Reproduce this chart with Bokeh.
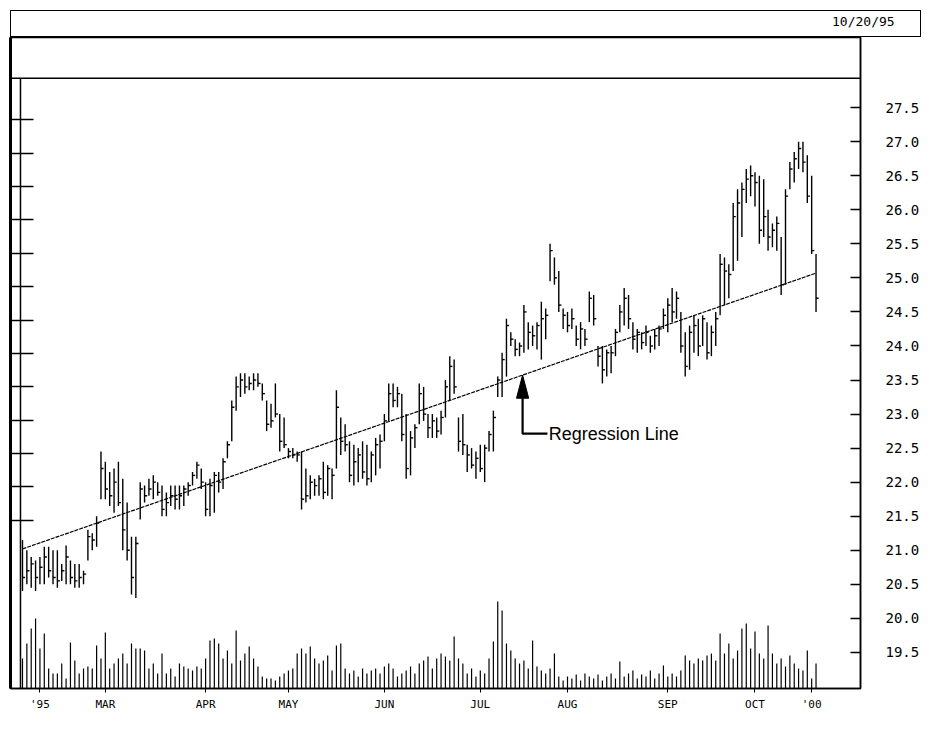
from bokeh.plotting import figure
from bokeh.models import Range1d, LinearAxis, FixedTicker, Span, Label, ColumnDataSource, NumeralTickFormatter, Div
from bokeh.layouts import column
from bokeh.embed import file_html
from bokeh.resources import INLINE

# ---------------- data (daily bars, 1 Feb 1995 .. 20 Oct 1995) ----------------
highs = [
    21.15, 21.00, 20.90, 20.85, 20.90, 21.05, 21.05, 21.00, 21.00, 20.80,
    21.07, 20.85, 20.80, 20.80, 20.70, 21.30, 21.25, 21.50, 22.45, 22.30,
    22.15, 22.20, 22.30, 22.05, 21.70, 21.20, 21.20, 22.00, 21.95, 22.05,
    22.10, 22.00, 21.95, 21.85, 21.95, 21.95, 21.95, 21.95, 22.00, 22.15,
    22.30, 22.20, 22.00, 22.05, 22.15, 22.15, 22.35, 22.60, 23.20, 23.55,
    23.60, 23.60, 23.55, 23.60, 23.60, 23.45, 23.20, 23.15, 23.45, 23.00,
    22.95, 22.50, 22.50, 22.45, 22.45, 22.20, 22.10, 22.05, 22.10, 22.30,
    22.25, 22.20, 23.35, 22.95, 22.85, 22.60, 22.55, 22.50, 22.60, 22.55,
    22.45, 22.65, 22.70, 23.00, 23.45, 23.45, 23.40, 23.30, 23.00, 22.75,
    22.85, 23.45, 23.40, 23.00, 23.00, 22.95, 23.05, 23.50, 23.85, 23.80,
    22.95, 23.00, 22.55, 22.50, 22.45, 22.55, 22.55, 22.75, 23.05, 23.55,
    23.90, 24.40, 24.20, 24.10, 24.05, 24.60, 24.35, 24.30, 24.35, 24.65,
    24.55, 25.50, 25.30, 25.10, 24.55, 24.50, 24.55, 24.30, 24.35, 24.25,
    24.80, 24.75, 24.00, 24.00, 23.95, 24.00, 24.25, 24.60, 24.85, 24.75,
    24.35, 24.25, 24.20, 24.30, 24.15, 24.25, 24.30, 24.55, 24.70, 24.85,
    24.80, 24.50, 24.20, 24.30, 24.45, 24.40, 24.45, 24.35, 24.30, 24.50,
    25.35, 25.30, 25.20, 26.10, 26.30, 26.40, 26.60, 26.65, 26.55, 26.50,
    26.45, 26.00, 25.80, 25.90, 25.60, 26.30, 26.70, 26.85, 27.00, 27.00,
    26.80, 26.50, 25.35,
]
lows = [
    20.40, 20.50, 20.45, 20.40, 20.50, 20.50, 20.60, 20.50, 20.45, 20.55,
    20.50, 20.50, 20.45, 20.45, 20.50, 20.85, 21.00, 21.05, 21.75, 21.75,
    21.65, 21.55, 21.65, 21.00, 20.85, 20.35, 20.30, 21.45, 21.70, 21.80,
    21.75, 21.80, 21.50, 21.50, 21.65, 21.60, 21.60, 21.65, 21.80, 21.95,
    22.05, 21.90, 21.50, 21.50, 21.55, 21.85, 21.90, 22.35, 22.60, 23.05,
    23.25, 23.30, 23.35, 23.35, 23.40, 23.20, 22.75, 22.80, 22.95, 22.45,
    22.50, 22.35, 22.35, 22.30, 21.60, 21.70, 21.75, 21.80, 21.80, 21.75,
    21.80, 21.75, 22.20, 22.40, 22.45, 22.00, 21.95, 22.00, 22.05, 21.95,
    22.00, 22.10, 22.20, 22.60, 22.90, 23.10, 23.10, 22.60, 22.05, 22.10,
    22.50, 22.85, 22.90, 22.65, 22.65, 22.65, 22.70, 22.95, 23.20, 23.30,
    22.45, 22.40, 22.15, 22.20, 22.05, 22.15, 22.00, 22.45, 22.45, 23.25,
    23.25, 23.55, 24.00, 23.85, 23.85, 23.90, 23.95, 24.00, 23.95, 23.80,
    24.10, 24.95, 24.90, 24.50, 24.25, 24.20, 24.25, 24.00, 23.95, 24.00,
    24.35, 24.30, 23.70, 23.45, 23.55, 23.60, 23.85, 24.20, 24.30, 24.25,
    23.95, 23.90, 23.95, 24.00, 23.90, 23.95, 24.00, 24.25, 24.20, 24.35,
    24.40, 23.90, 23.55, 23.65, 23.90, 23.85, 24.00, 23.80, 23.85, 24.00,
    24.45, 24.60, 24.70, 25.10, 25.25, 25.60, 26.10, 26.20, 26.05, 25.50,
    25.60, 25.40, 25.45, 25.40, 24.75, 24.90, 26.30, 26.40, 26.60, 26.55,
    26.10, 25.35, 24.50,
]
closes = [
    20.60, 20.70, 20.80, 20.60, 20.75, 20.90, 20.70, 20.60, 20.55, 20.70,
    20.90, 20.60, 20.55, 20.60, 20.65, 21.20, 21.15, 21.40, 22.20, 21.90,
    21.80, 22.00, 21.70, 21.30, 21.00, 20.60, 21.10, 21.90, 21.80, 21.90,
    22.00, 21.85, 21.60, 21.70, 21.80, 21.75, 21.80, 21.90, 21.95, 22.10,
    22.25, 22.00, 21.60, 21.95, 22.10, 22.00, 22.30, 22.55, 23.10, 23.40,
    23.50, 23.40, 23.45, 23.50, 23.45, 23.30, 22.85, 22.90, 23.00, 22.60,
    22.55, 22.45, 22.40, 22.40, 21.75, 21.80, 22.00, 21.95, 22.05, 21.85,
    22.20, 22.10, 23.10, 22.60, 22.55, 22.10, 22.30, 22.40, 22.15, 22.05,
    22.40, 22.55, 22.60, 22.90, 23.30, 23.20, 23.30, 22.70, 22.20, 22.65,
    22.80, 23.30, 23.00, 22.80, 22.90, 22.75, 22.95, 23.40, 23.70, 23.40,
    22.60, 22.55, 22.40, 22.25, 22.35, 22.20, 22.50, 22.70, 22.95, 23.50,
    23.80, 24.30, 24.10, 23.95, 24.00, 24.50, 24.20, 24.15, 24.30, 24.40,
    24.45, 25.40, 25.00, 24.60, 24.45, 24.30, 24.40, 24.10, 24.25, 24.10,
    24.70, 24.40, 23.85, 23.65, 23.90, 23.90, 24.20, 24.50, 24.70, 24.40,
    24.10, 24.20, 24.05, 24.20, 24.00, 24.15, 24.25, 24.45, 24.60, 24.50,
    24.70, 24.00, 23.70, 24.20, 24.30, 24.00, 24.40, 23.90, 24.20, 24.40,
    25.20, 25.10, 25.05, 25.90, 26.10, 26.30, 26.45, 26.50, 26.40, 25.70,
    25.90, 25.60, 25.70, 25.80, 24.90, 26.20, 26.60, 26.75, 26.90, 26.70,
    26.20, 25.40, 24.70,
]
volumes = [
    30, 45, 60, 70, 40, 55, 20, 15, 15, 25,
    10, 46, 28, 15, 20, 22, 20, 43, 30, 56,
    20, 25, 30, 35, 25, 45, 40, 40, 38, 20,
    25, 15, 35, 15, 20, 12, 25, 22, 20, 18,
    22, 20, 30, 48, 50, 45, 30, 38, 25, 58,
    28, 35, 42, 30, 22, 12, 10, 10, 8, 12,
    15, 18, 20, 35, 40, 35, 42, 30, 25, 28,
    33, 18, 43, 45, 20, 15, 18, 12, 20, 15,
    18, 20, 15, 22, 25, 20, 12, 15, 18, 22,
    15, 25, 28, 32, 20, 30, 35, 32, 28, 52,
    30, 25, 15, 20, 12, 18, 15, 30, 47, 87,
    78, 45, 38, 30, 25, 28, 20, 48, 22, 18,
    15, 20, 35, 12, 8, 12, 10, 14, 8, 15,
    12, 10, 14, 8, 12, 15, 10, 27, 12, 15,
    18, 10, 14, 12, 18, 10, 15, 23, 12, 15,
    12, 18, 33, 28, 25, 30, 28, 33, 35, 28,
    55, 35, 45, 30, 38, 60, 65, 40, 57, 35,
    30, 63, 35, 25, 30, 22, 33, 25, 20, 18,
    38, 10, 25,
]
month_ticks = [4, 19, 42, 61, 83, 105, 125, 148, 168, 181]
month_labels = ["'95", "MAR", "APR", "MAY", "JUN", "JUL", "AUG", "SEP", "OCT", "'00"]
price_ticks = [19.5, 20.0, 20.5, 21.0, 21.5, 22.0, 22.5, 23.0, 23.5, 24.0,
               24.5, 25.0, 25.5, 26.0, 26.5, 27.0, 27.5]
left_ticks = [27.32, 26.83, 26.34, 25.85, 25.36, 24.87, 24.38, 23.89, 23.40,
              22.91, 22.42, 21.93, 21.44]
regression = [21.02, 25.07]      # fitted value at first and last bar
date_text = "10/20/95"
note_text = "Regression Line"
note_at = 114.7                  # bar index where the arrow meets the line

n = len(highs)
assert n == len(lows) == len(closes) == len(volumes) == 183
idx = list(range(n))

src = ColumnDataSource(dict(
    x=idx, xr=[i + 0.6 for i in idx], high=highs, low=lows, close=closes,
    vol=volumes, zero=[0] * n,
))

MONO = "DejaVu Sans Mono"

# ---------------- header strip (boxed, date at right) ----------------
header = Div(
    text=('<div style="font-family:\'DejaVu Sans Mono\';font-size:13px;line-height:22px;'
          'padding-left:821px;color:black;white-space:nowrap;">' + date_text + '</div>'),
    width=911, height=27, margin=(10, 0, 0, 10),
    styles={"border": "1.5px solid black", "box-sizing": "border-box", "background": "white"},
)

# ---------------- main chart ----------------
y0, y1 = 18.97, 28.53
p = figure(width=923, height=685,
           x_range=Range1d(-2.75, 192.2), y_range=Range1d(y0, y1),
           output_backend="svg", toolbar_location=None,
           y_axis_location="right",
           min_border_left=10, min_border_right=63, min_border_top=0, min_border_bottom=34)
p.margin = (0, 0, 0, 0)
p.grid.visible = False
p.outline_line_color = "black"
p.outline_line_width = 1.5
p.extra_y_ranges = {"vol": Range1d(0, 651)}

# right price axis
ya = p.yaxis[0]
ya.ticker = FixedTicker(ticks=price_ticks)
ya.formatter = NumeralTickFormatter(format="0.0")
ya.major_tick_in = 10
ya.major_tick_out = 0
ya.minor_tick_line_color = None
ya.axis_line_width = 1.5
ya.major_tick_line_width = 1.5
ya.major_label_standoff = 25
ya.major_label_text_font = MONO
ya.major_label_text_font_size = "14px"
ya.major_label_text_color = "black"

# bottom month axis
xa = p.xaxis[0]
xa.ticker = FixedTicker(ticks=month_ticks)
xa.major_label_overrides = {t: l for t, l in zip(month_ticks, month_labels)}
xa.major_tick_in = 0
xa.major_tick_out = 4
xa.minor_tick_line_color = None
xa.axis_line_width = 1.5
xa.major_label_standoff = 5
xa.major_label_text_font = MONO
xa.major_label_text_font_size = "11px"
xa.major_label_text_color = "black"

# left unlabeled axis (outer border)
la = LinearAxis(ticker=FixedTicker(ticks=left_ticks))
la.major_label_overrides = {t: "" for t in left_ticks}
la.major_label_text_font_size = "1px"
la.major_label_standoff = 0
la.major_tick_in = 23
la.major_tick_out = 0
la.minor_tick_line_color = None
la.axis_line_width = 3
la.major_tick_line_width = 1.5
p.add_layout(la, "left")

# inner frame lines
inner_top = 27.93
p.add_layout(Span(location=inner_top, dimension="width", line_color="black", line_width=1.5))
p.segment(x0=[-0.46], y0=[y0], x1=[-0.46], y1=[inner_top], line_color="black", line_width=1.5)

# volume bars
p.segment(x0="x", y0="zero", x1="x", y1="vol", source=src, y_range_name="vol",
          line_color="black", line_width=1.2)

# price bars (high-low with close tick)
p.segment(x0="x", y0="low", x1="x", y1="high", source=src, line_color="black", line_width=1.4)
p.segment(x0="x", y0="close", x1="xr", y1="close", source=src, line_color="black", line_width=1.4)

# regression line
p.line(x=[0, n - 1], y=regression, line_color="black", line_width=1.2, line_dash="4 1")

# annotation arrow
slope = (regression[1] - regression[0]) / (n - 1)
tip_y = regression[0] + slope * note_at
head_len, head_half = 0.34, 1.4
note_y = tip_y - 0.86
p.patch(x=[note_at, note_at - head_half, note_at + head_half],
        y=[tip_y, tip_y - head_len, tip_y - head_len], color="black")
p.line(x=[note_at, note_at, note_at + 5.7], y=[tip_y - head_len, note_y, note_y],
       line_color="black", line_width=2.2)
p.add_layout(Label(x=note_at + 6.0, y=note_y, text=note_text, text_font="Liberation Sans",
                   text_font_size="18px", text_baseline="middle", text_color="black"))

layout = column(header, p)
open("out.html", "w").write(file_html(layout, INLINE))
